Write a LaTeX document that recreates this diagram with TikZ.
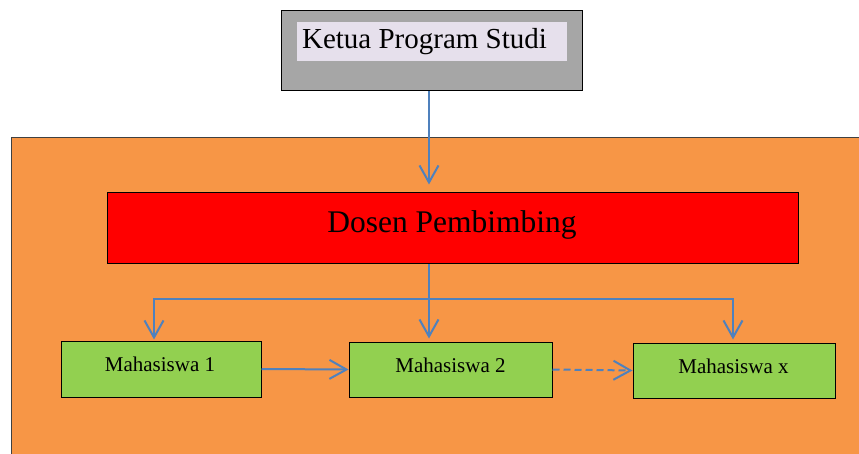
\documentclass[tikz,border=0pt]{standalone}
\usepackage{fontspec}
\setmainfont{Liberation Serif}
\usetikzlibrary{arrows.meta}
\definecolor{orangebg}{HTML}{F79646}
\definecolor{greenbox}{HTML}{92D050}
\definecolor{graybox}{HTML}{A6A6A6}
\definecolor{lavender}{HTML}{E6E0EC}
\definecolor{arrblue}{HTML}{4F81BD}
\tikzset{
  boxnode/.style={draw=black, line width=1pt, inner sep=0pt, rectangle},
  txt/.style={inner sep=0pt, anchor=base, text=black},
  arr/.style={draw=arrblue, line width=2pt, -{Straight Barb[length=17pt,width=19pt,line width=2pt]}},
}
\begin{document}
\begin{tikzpicture}[x=1pt,y=-1pt]
\useasboundingbox (0,0) rectangle (859,454);
\begin{scope}
\clip (0,0) rectangle (859,454);
\fill[white] (0,0) rectangle (859,454);
\node[draw=black!75, line width=1pt, fill=orangebg, inner sep=0pt, minimum width=870pt, minimum height=340pt, anchor=north west] (area) at (11,137) {};
\end{scope}
\node[boxnode, fill=graybox, minimum width=301pt, minimum height=80pt] (ketua) at (431.5,51) {};
\node[fill=lavender, inner sep=0pt, minimum width=270pt, minimum height=39pt] (klabel) at (432,41.5) {};
\node[txt, font=\fontsize{29}{32}\selectfont] (ktext) at (424.5,49) {Ketua Program Studi};
\node[boxnode, fill=red, minimum width=691pt, minimum height=71pt] (dosen) at (452.5,228.5) {};
\node[txt, font=\fontsize{31.5}{34}\selectfont] (dtext) at (452,233) {Dosen Pembimbing};
\node[boxnode, fill=greenbox, minimum width=200pt, minimum height=56pt] (m1) at (161,369) {};
\node[txt, font=\fontsize{21}{24}\selectfont] (m1text) at (160,371) {Mahasiswa 1};
\node[boxnode, fill=greenbox, minimum width=203pt, minimum height=55pt] (m2) at (450.5,369.5) {};
\node[txt, font=\fontsize{21}{24}\selectfont] (m2text) at (450.5,372) {Mahasiswa 2};
\node[boxnode, fill=greenbox, minimum width=202pt, minimum height=55pt] (mx) at (734,370.5) {};
\node[txt, font=\fontsize{21}{24}\selectfont] (mxtext) at (733.5,373) {Mahasiswa x};
\coordinate (spine) at (429,0);
\coordinate (hbar) at (0,299);
\draw[arr, shorten >=8pt] (spine |- ketua.south) -- (spine |- dosen.north);
\draw[arr, shorten >=3pt] (spine |- dosen.south) -- (spine |- m2.north);
\draw[arr, shorten >=1pt] (spine |- hbar) -| ([xshift=-7pt]m1.north);
\draw[arr, shorten >=3pt] (spine |- hbar) -| ([xshift=-1pt]mx.north);
\draw[arr] (m1.east) -- (m2.west);
\draw[arr, dash pattern=on 7pt off 4pt] (m2.east) -- (mx.west);
\end{tikzpicture}
\end{document}
